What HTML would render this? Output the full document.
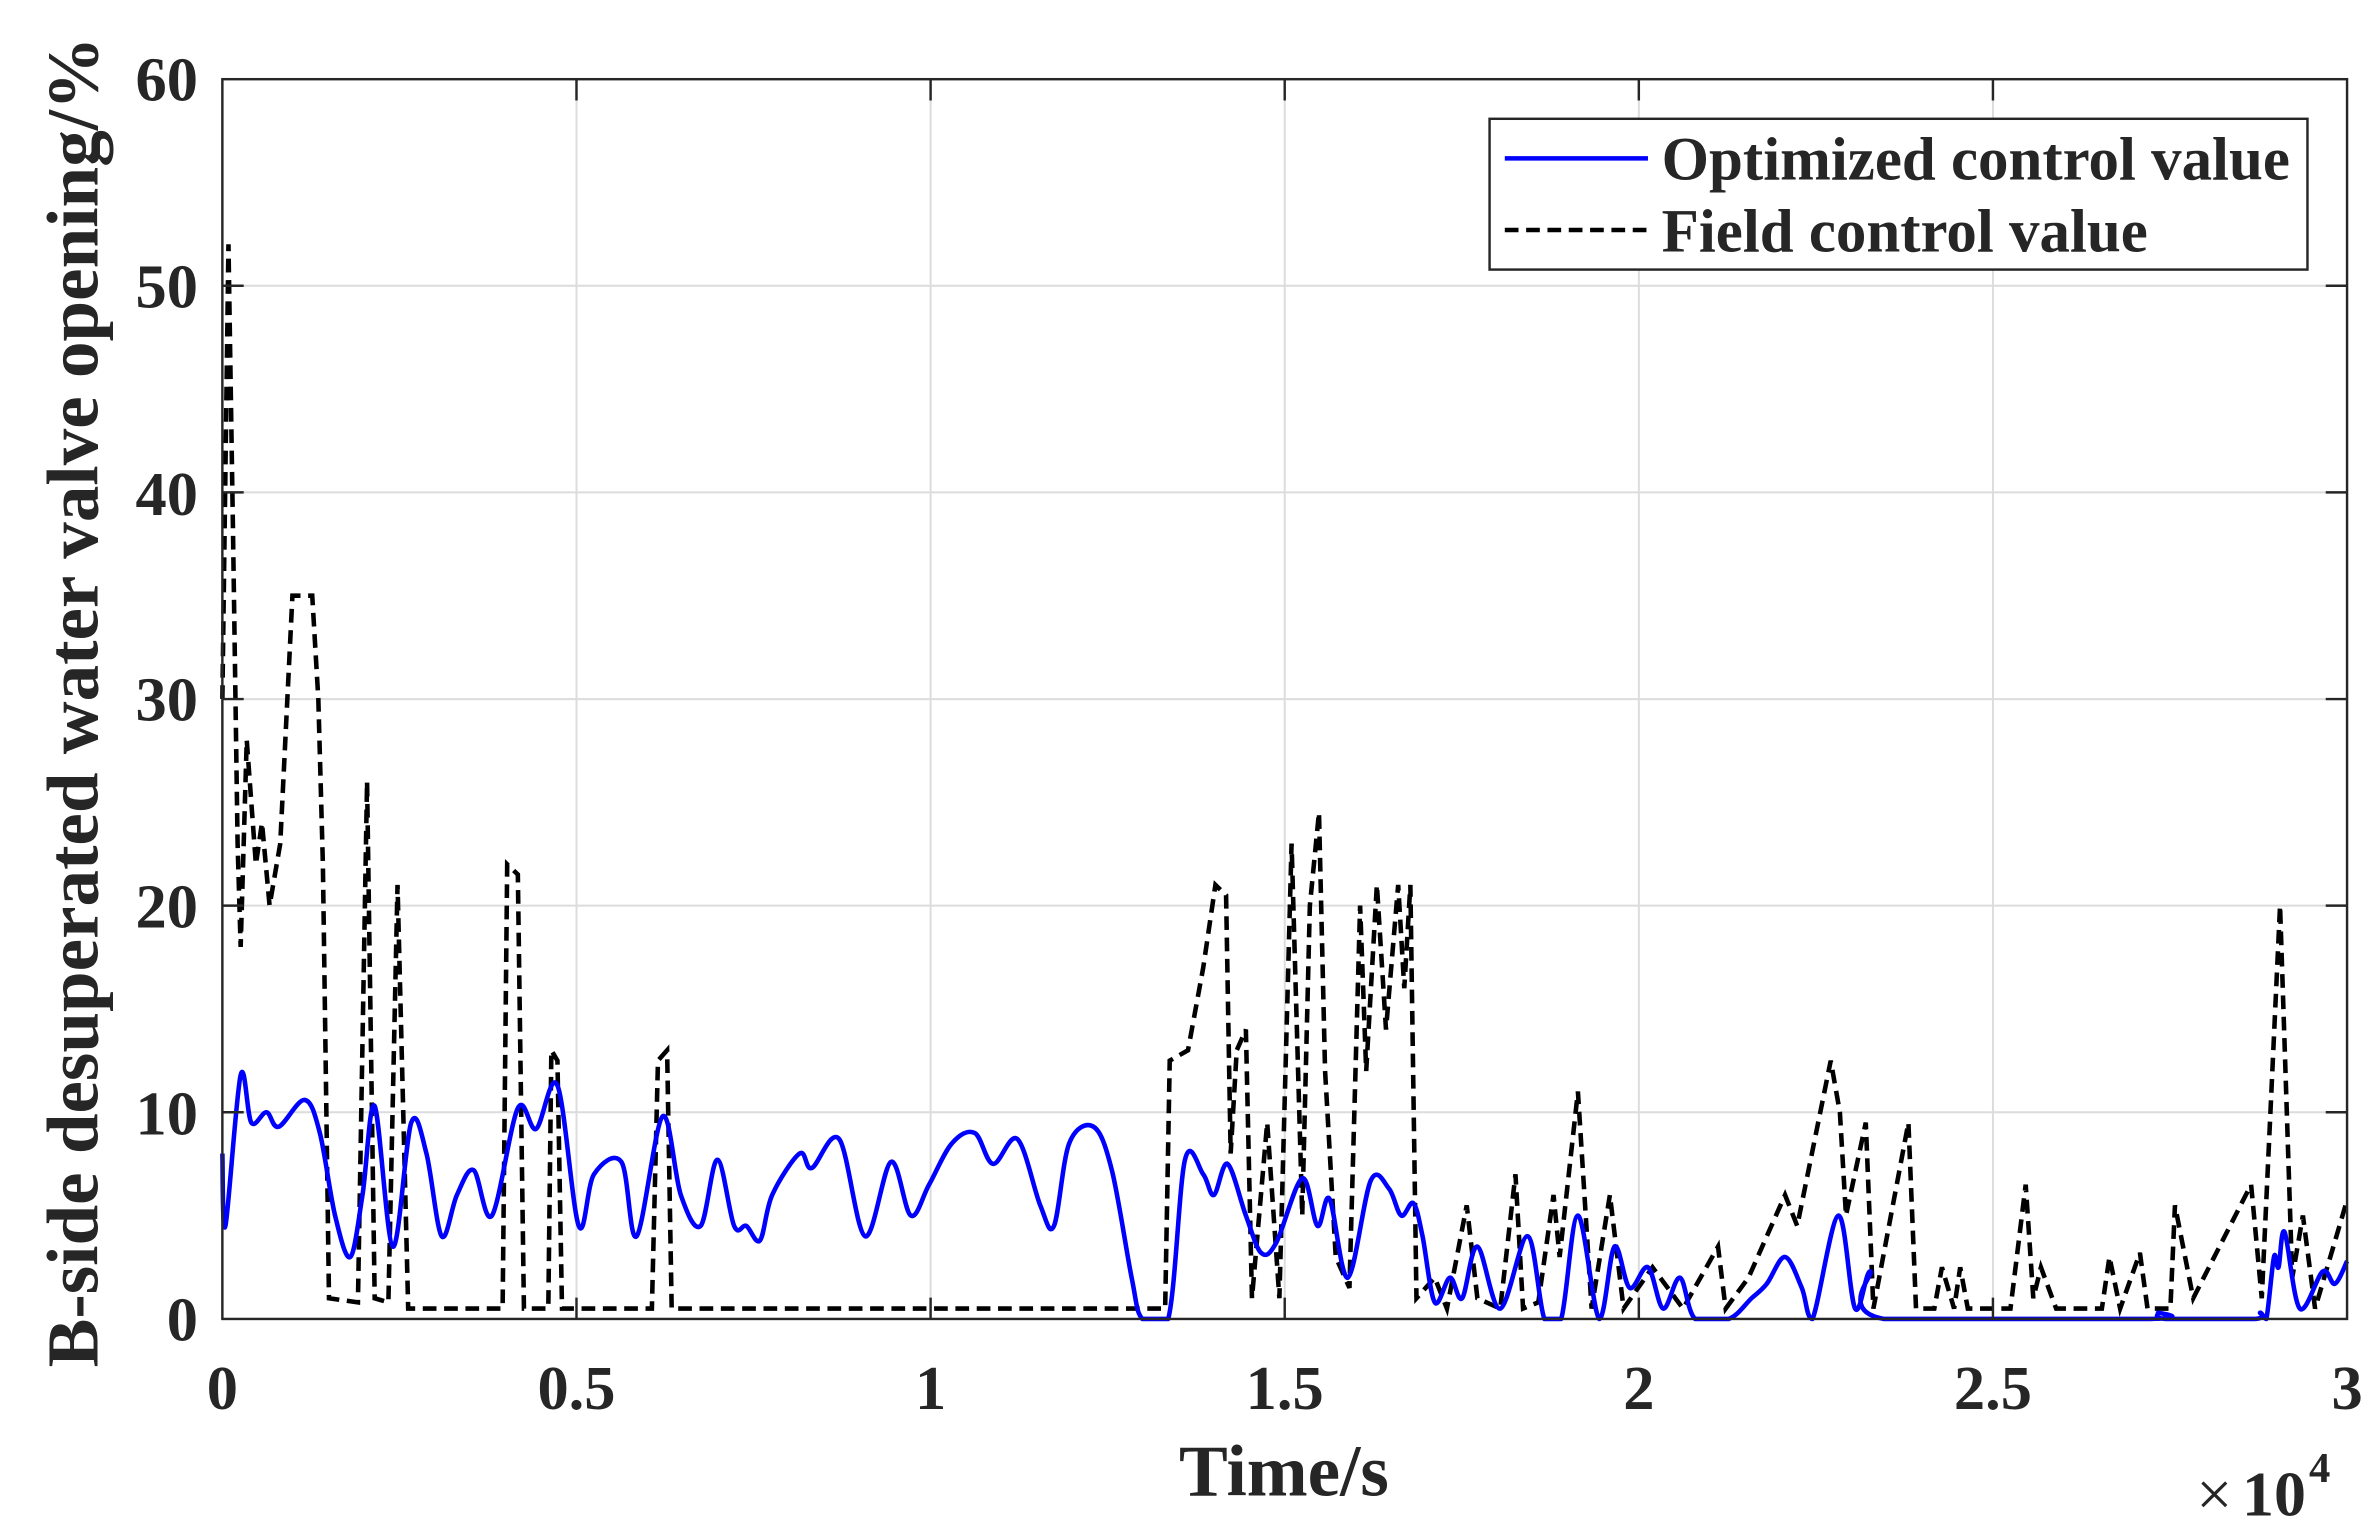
<!DOCTYPE html>
<html><head><meta charset="utf-8"><style>
html,body{margin:0;padding:0;background:#fff;}
svg{display:block;}
text{font-family:"Liberation Serif",serif;font-weight:bold;fill:#262626;}
</style></head><body>
<svg id="s" width="2376" height="1527" viewBox="0 0 1560 1002.6" preserveAspectRatio="none" xmlns="http://www.w3.org/2000/svg">
<g stroke="#dcdcdc" stroke-width="1.3">
<line x1="378.5" y1="52" x2="378.5" y2="866"/><line x1="611" y1="52" x2="611" y2="866"/><line x1="843.5" y1="52" x2="843.5" y2="866"/><line x1="1076" y1="52" x2="1076" y2="866"/><line x1="1308.5" y1="52" x2="1308.5" y2="866"/>
<line x1="146" y1="730.3" x2="1541" y2="730.3"/><line x1="146" y1="594.6" x2="1541" y2="594.6"/><line x1="146" y1="459" x2="1541" y2="459"/><line x1="146" y1="323.3" x2="1541" y2="323.3"/><line x1="146" y1="187.6" x2="1541" y2="187.6"/>
</g>
<polyline id="blk" fill="none" stroke="#000" stroke-width="3" stroke-dasharray="9,5"/>
<path id="blu" fill="none" stroke="#0000ff" stroke-width="3" stroke-linejoin="round"/>
<g stroke="#262626" stroke-width="1.6" fill="none">
<rect x="146" y="52" width="1395" height="814"/>
<path d="M378.5 866v-14M611 866v-14M843.5 866v-14M1076 866v-14M1308.5 866v-14M378.5 52v14M611 52v14M843.5 52v14M1076 52v14M1308.5 52v14"/>
<path d="M146 730.3h14M146 594.6h14M146 459h14M146 323.3h14M146 187.6h14M1541 730.3h-14M1541 594.6h-14M1541 459h-14M1541 323.3h-14M1541 187.6h-14"/>
</g>
<g font-size="41" text-anchor="end">
<text x="130" y="880">0</text><text x="130" y="745">10</text><text x="130" y="609">20</text><text x="130" y="473">30</text><text x="130" y="338">40</text><text x="130" y="202">50</text><text x="130" y="66">60</text>
</g>
<g font-size="41" text-anchor="middle">
<text x="146" y="925">0</text><text x="378.5" y="925">0.5</text><text x="611" y="925">1</text><text x="843.5" y="925">1.5</text><text x="1076" y="925">2</text><text x="1308.5" y="925">2.5</text><text x="1541" y="925">3</text>
</g>
<text x="843" y="982" font-size="48" text-anchor="middle">Time/s</text>
<text x="1442" y="995" font-size="42" style="font-weight:normal">×</text><text x="1472" y="995" font-size="42">10</text><text x="1516" y="973" font-size="28">4</text>
<text transform="translate(64,461) rotate(-90)" font-size="48" text-anchor="middle">B-side desuperated water valve opening/%</text>
<rect x="978" y="78" width="537" height="99" fill="#fff" stroke="#262626" stroke-width="1.6"/>
<line x1="988" y1="104" x2="1082" y2="104" stroke="#0000ff" stroke-width="3"/>
<line x1="988" y1="151" x2="1082" y2="151" stroke="#000" stroke-width="3" stroke-dasharray="9,5"/>
<text x="1091" y="118" font-size="40">Optimized control value</text>
<text x="1091" y="165" font-size="40">Field control value</text>
</svg>
<script>
function Y(v){return 866-13.57*v;}
function f(a){var s=[];for(var i=0;i<a.length;i+=2){s.push(a[i]+","+Y(a[i+1]).toFixed(1));}return s.join(" ");}
function smooth(a){var p=[];for(var i=0;i<a.length;i+=2)p.push([a[i],Y(a[i+1])]);
var d="M"+p[0][0]+","+p[0][1].toFixed(1);
for(var i=0;i<p.length-1;i++){var p0=p[i>0?i-1:i],p1=p[i],p2=p[i+1],p3=p[i+2<p.length?i+2:i+1];
var c1x=p1[0]+(p2[0]-p0[0])/6,c1y=Math.min(866,p1[1]+(p2[1]-p0[1])/6),c2x=p2[0]-(p3[0]-p1[0])/6,c2y=Math.min(866,p2[1]-(p3[1]-p1[1])/6);
if(p1[1]>=865.9&&p2[1]>=865.9){c1y=866;c2y=866;}
d+=" C"+c1x.toFixed(1)+","+c1y.toFixed(1)+" "+c2x.toFixed(1)+","+c2y.toFixed(1)+" "+p2[0]+","+p2[1].toFixed(1);}
return d;}
var blue=[146,8,148,4.5,158,11.8,165,9.5,175,10,183,9.3,200,10.6,210,9,220,5,230,3,238,6,246,10.3,258,3.5,270,9.5,280,8,290,4,300,6,311,7.2,323,5,340,10.2,352,9.2,366,11.3,380,4.5,390,7,408,7.6,418,4,435,9.8,447,6,460,4.5,471,7.7,482,4.5,490,4.5,499,3.8,507,6,525,8,533,7.3,551,8.7,568,4,585,7.6,598,5,610,6.5,625,8.5,640,9,652,7.5,668,8.7,683,5.5,692,4.5,702,8.5,718,9.3,730,7.2,743,2,750,0,767,0,778,7.7,790,7,797,6,806,7.5,818,5,828,3.2,838,3.7,855,6.8,865,4.5,873,5.8,885,2,900,6.7,912,6.3,920,5,928,5.6,934,4,942,0.8,952,2,960,1,970,3.5,985,0.5,1003,4,1014,0,1025,0,1036,5,1050,0,1060,3.5,1070,1.5,1082,2.5,1092,0.5,1103,2,1113,0,1135,0,1150,1,1160,1.7,1172,3,1183,1.5,1190,0,1207,5,1218,0.5,1228,2.3,1237,0,1412,0,1417,0.3,1422,0,1480,0,1484,0.3,1488,0,1493,3,1496,2.5,1500,4.2,1510,0.5,1525,2.3,1533,1.7,1541,2.8];
var blk=[146,30,150,52,153,38,156,23,158,18,162,28,168,22,172,24,177,20,184,23,192,35,205,35,209,30,212,22,216,1,235,0.8,241,26,246,1,255,0.8,261,21,268,0.5,330,0.5,333,22,340,21.5,344,0.5,360,0.5,362,13,366,12.5,369,0.5,428,0.5,432,12.5,438,13,441,0.5,765,0.5,768,12.5,780,13,790,17,798,21,805,20.5,808,8,812,13,818,14,822,1,832,9.5,840,1,848,23,855,5,860,20,866,24.5,870,12,877,3,886,1.5,893,20,897,12,904,21,910,14,918,21,922,16,926,21,930,1,942,2,950,0.5,963,5.5,970,1,985,0.5,995,7,1000,0.5,1010,0.8,1020,6,1024,3,1036,11,1045,0.5,1057,6,1066,0.5,1085,2.5,1105,0.5,1128,3.5,1133,0.5,1148,2,1172,6,1180,4.5,1202,12.5,1208,10,1212,5,1225,9.5,1230,0.5,1253,9.5,1258,0.5,1270,0.5,1275,2.5,1283,0.5,1287,2.5,1292,0.5,1320,0.5,1330,6.5,1335,1,1340,2.5,1350,0.5,1380,0.5,1385,3,1392,0.5,1405,3.2,1410,0.5,1425,0.5,1428,5.5,1440,1,1478,6.5,1485,1,1497,20,1505,2,1512,5,1520,0.5,1540,5.5];
document.getElementById("blu").setAttribute("d",smooth(blue));
document.getElementById("blk").setAttribute("points",f(blk));
</script>
</body></html>
